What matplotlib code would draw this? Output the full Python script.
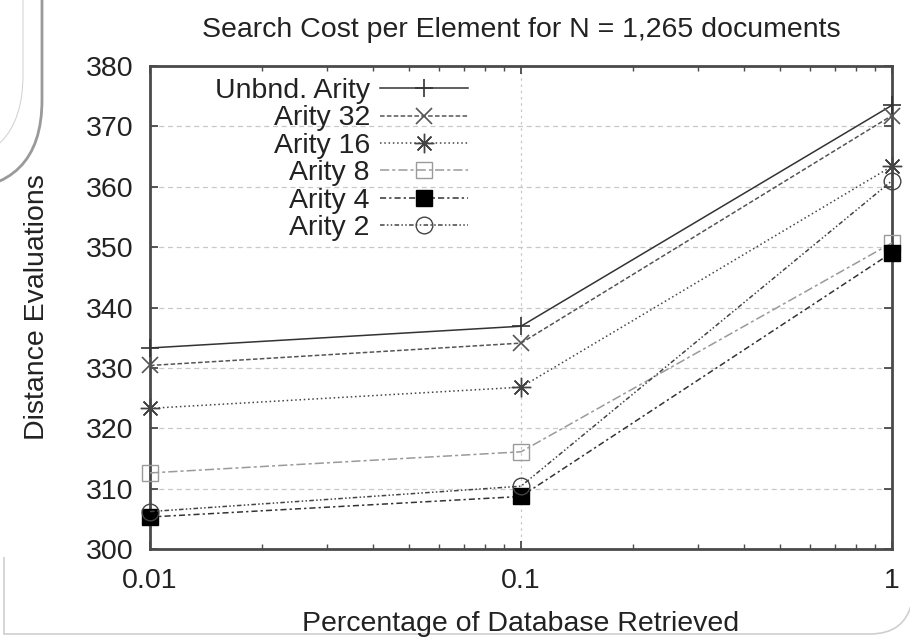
import numpy as np
import matplotlib
matplotlib.use("Agg")
import matplotlib.pyplot as plt
from matplotlib.patches import FancyBboxPatch, PathPatch
from matplotlib.path import Path

plt.rcParams['font.family'] = ['Liberation Sans', 'DejaVu Sans']

# data
pct = [0.01, 0.1, 1]
unbnd = [333.3, 336.9, 373.5]
arity32 = [330.4, 334.1, 371.8]
arity16 = [323.3, 326.8, 363.4]
arity8 = [312.6, 316.1, 350.7]
arity4 = [305.3, 308.7, 349.1]
arity2 = [306.2, 310.4, 361.0]

labels = ["Unbnd. Arity", "Arity 32", "Arity 16", "Arity 8", "Arity 4", "Arity 2"]
yticks = [300, 310, 320, 330, 340, 350, 360, 370, 380]
xticks = [0.01, 0.1, 1]
xticklabels = ["0.01", "0.1", "1"]

FS = 20.5
GRID = "#c8c8c8"
FRAME = "#4a4a4a"

fig = plt.figure(figsize=(9.1, 6.37), dpi=100, facecolor="white")
ax = fig.add_axes([150 / 910, 88 / 637, 742 / 910, 483 / 637])

styles = [
    dict(color="#333333", ls="-", marker="+", ms=13, mew=1.2, mfc="none"),
    dict(color="#555555", ls=(0, (3, 1.5)), marker="x", ms=12, mew=1.2, mfc="none"),
    dict(color="#444444", ls=(0, (1, 1.8)), marker=(8, 2, 0), ms=14, mew=1.0, mfc="none"),
    dict(color="#9a9a9a", ls=(0, (6, 2, 2, 2)), marker="s", ms=12, mew=1.0, mfc="none"),
    dict(color="#333333", ls=(0, (4, 2, 1.5, 2)), marker="s", ms=12, mew=1.0, mfc="black", mec="black"),
    dict(color="#444444", ls=(0, (3, 1.5, 1, 1.5, 1, 1.5)), marker="o", ms=12, mew=1.0, mfc="none"),
]
series = [unbnd, arity32, arity16, arity8, arity4, arity2]

for vals, lab, st in zip(series, labels, styles):
    ax.plot(pct, vals, label=lab, lw=1.1, clip_on=False, zorder=3, **st)

ax.set_xscale("log")
ax.set_xlim(0.01, 1)
ax.set_ylim(300, 380)
ax.set_yticks(yticks)
ax.set_xticks(xticks)
ax.set_xticklabels(xticklabels)

# light dashed grid like gnuplot
for y in yticks[1:-1]:
    ax.axhline(y, color=GRID, lw=0.9, ls=(0, (4, 3)), zorder=1)
ax.axvline(0.1, color=GRID, lw=0.9, ls=(0, (2, 3)), zorder=1)

for sp in ax.spines.values():
    sp.set_linewidth(2.0)
    sp.set_color(FRAME)

ax.tick_params(axis="both", which="major", direction="in", length=6, width=1.3,
               color=FRAME, top=True, right=True, labelsize=FS)
ax.tick_params(axis="y", pad=12)
ax.tick_params(axis="x", pad=14)
ax.tick_params(axis="x", which="minor", direction="in", length=3.5, width=1.0,
               color=FRAME, top=True, bottom=True)
ax.tick_params(axis="both", colors=FRAME, labelcolor="#222222")

ax.set_title("Search Cost per Element for N = 1,265 documents", fontsize=FS, pad=21, color="#222222")
ax.set_ylabel("Distance Evaluations", fontsize=FS, color="#222222")
ax.set_xlabel("Percentage of Database Retrieved", fontsize=FS, color="#222222")
ax.yaxis.set_label_coords(-0.135, 0.5)
ax.xaxis.set_label_coords(0.5, -0.128)

leg = ax.legend(loc="upper right", bbox_to_anchor=(0.4286, 0.975), frameon=False,
                markerfirst=False, fontsize=FS, handlelength=3.1, handletextpad=0.35,
                labelspacing=0.05, borderpad=0, borderaxespad=0, numpoints=1)
for t in leg.get_texts():
    t.set_color("#222222")

# slide frame remnants around the picture
tl = FancyBboxPatch((-3.0, 6.37 - 1.9), 3.42, 3.0,
                    boxstyle="round,pad=0,rounding_size=0.9",
                    transform=fig.dpi_scale_trans, fill=False,
                    ec="#9a9a9a", lw=2.0, zorder=0)
fig.add_artist(tl)
tl2 = FancyBboxPatch((-3.0, 6.37 - 1.65), 3.23, 3.0,
                     boxstyle="round,pad=0,rounding_size=0.9",
                     transform=fig.dpi_scale_trans, fill=False,
                     ec="#cfcfcf", lw=0.7, zorder=0)
fig.add_artist(tl2)

verts = [(0.04, 0.8), (0.04, 0.03), (8.7, 0.03), (9.05, 0.03), (9.12, 0.35)]
codes = [Path.MOVETO, Path.LINETO, Path.LINETO, Path.CURVE3, Path.CURVE3]
frame = PathPatch(Path(verts, codes), transform=fig.dpi_scale_trans, fill=False,
                  ec="#cfcfcf", lw=1.2, zorder=0)
fig.add_artist(frame)

fig.savefig("out.png", dpi=100, facecolor="white")
